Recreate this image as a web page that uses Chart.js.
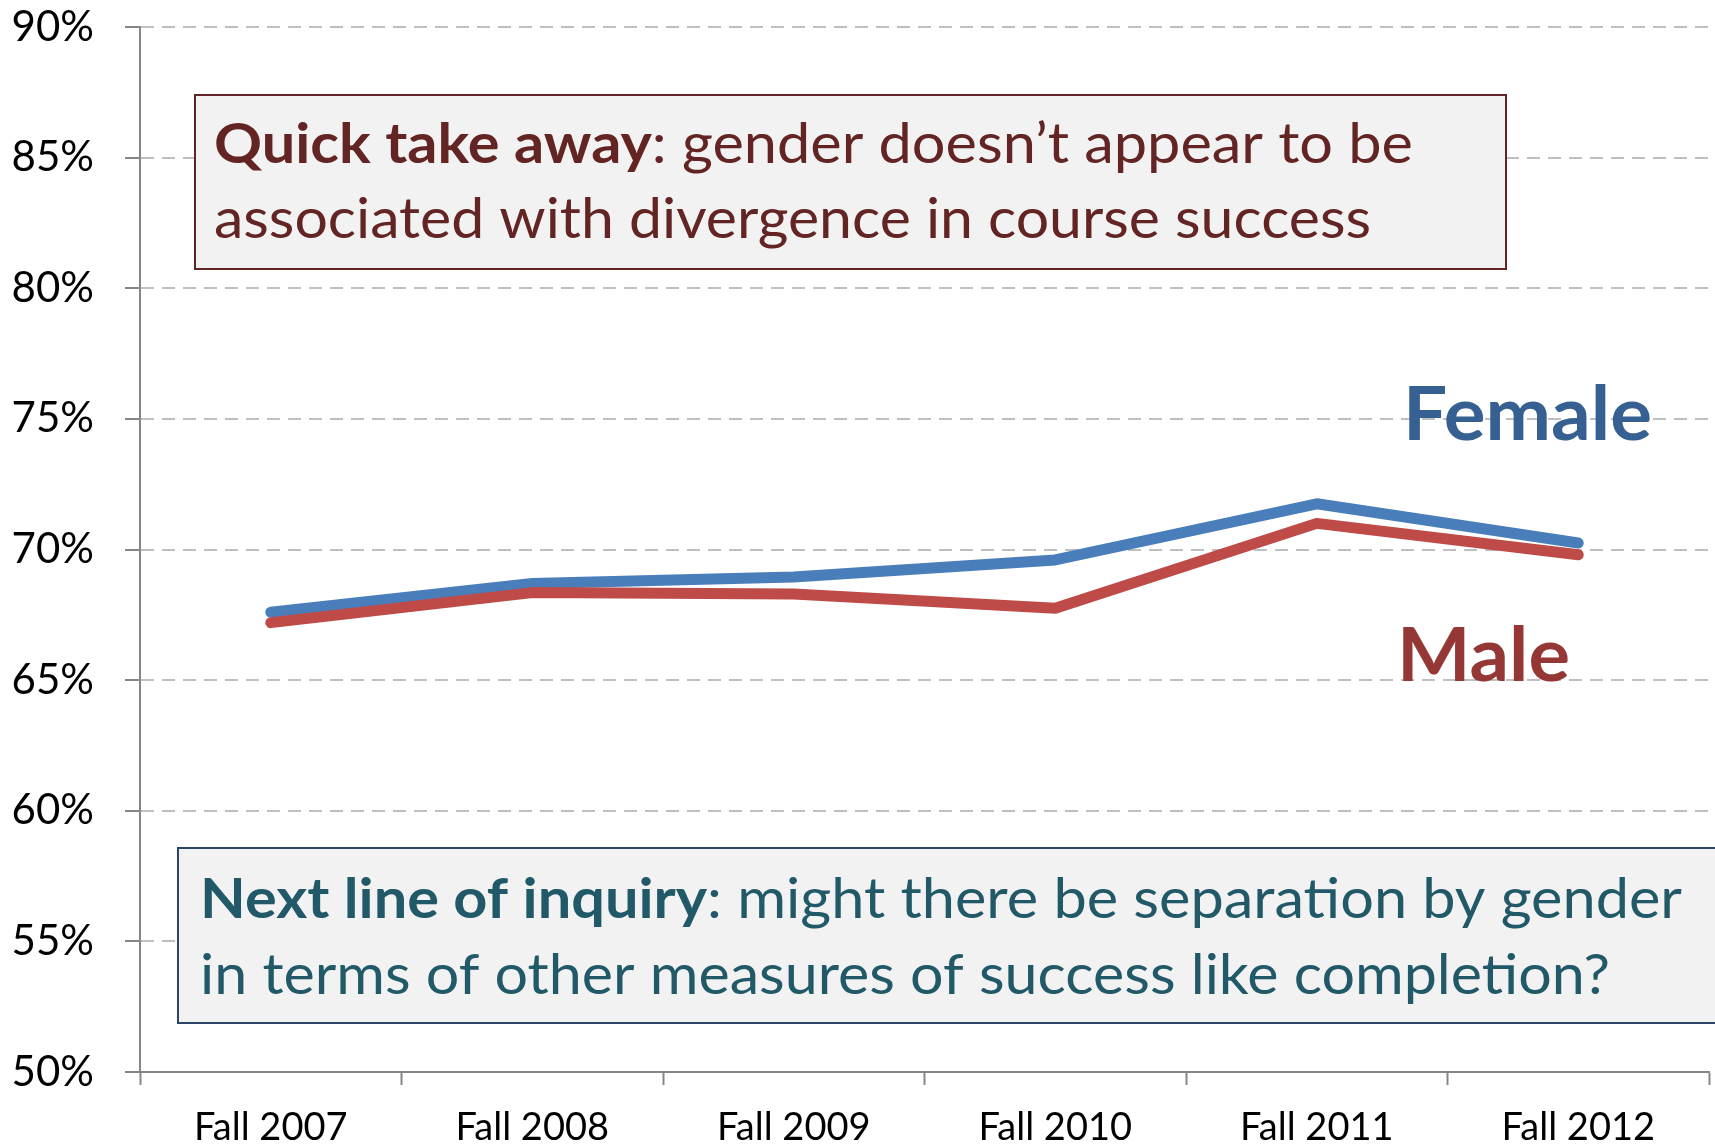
<!DOCTYPE html>
<html>
<head>
<meta charset="utf-8">
<script src="https://cdn.jsdelivr.net/npm/chart.js@4/dist/chart.umd.min.js"></script>
<style>
  html, body { margin: 0; padding: 0; background: #ffffff; }
  #wrap { width: 1715px; height: 1144px; }
</style>
</head>
<body>
<div id="wrap"><canvas id="c" width="1715" height="1144"></canvas></div>
<script>
// ---- data ----
const categories = ['Fall 2007', 'Fall 2008', 'Fall 2009', 'Fall 2010', 'Fall 2011', 'Fall 2012'];
const femaleValues = [67.6, 68.7, 68.95, 69.6, 71.75, 70.25];
const maleValues   = [67.2, 68.35, 68.3, 67.75, 71.0, 69.8];
const yTickValues = [50, 55, 60, 65, 70, 75, 80, 85, 90];
const seriesNames = ['Female', 'Male'];
const noteTopLines = [
  [{ t: 'Quick take away', b: true }, { t: ': gender doesn\u2019t appear to be', b: false }],
  [{ t: 'associated with divergence in course success', b: false }]
];
const noteBottomLines = [
  [{ t: 'Next line of inquiry', b: true }, { t: ': might there be separation by gender', b: false }],
  [{ t: 'in terms of other measures of success like completion?', b: false }]
];

const FONT = 'Lato, "Open Sans", sans-serif';

function drawRuns(ctx, runs, x, baseline, targetW, size, color) {
  ctx.save();
  ctx.fillStyle = color;
  ctx.textBaseline = 'alphabetic';
  ctx.textAlign = 'left';
  let total = 0;
  runs.forEach(r => {
    ctx.font = (r.b ? 'bold ' : '') + size + 'px ' + FONT;
    r.w = ctx.measureText(r.t).width;
    total += r.w;
  });
  const sx = targetW ? targetW / total : 1;
  ctx.translate(x, baseline);
  ctx.scale(sx, 1);
  let cx = 0;
  runs.forEach(r => {
    ctx.font = (r.b ? 'bold ' : '') + size + 'px ' + FONT;
    ctx.fillText(r.t, cx, 0);
    cx += r.w;
  });
  ctx.restore();
}

const notesPlugin = {
  id: 'notes',
  afterDatasetsDraw(chart) {
    const ctx = chart.ctx;
    ctx.save();
    ctx.fillStyle = '#F2F2F2';
    ctx.strokeStyle = '#632523';
    ctx.lineWidth = 2;
    ctx.fillRect(195, 95, 1311, 174);
    ctx.strokeRect(195, 95, 1311, 174);
    ctx.strokeStyle = '#2A4566';
    ctx.fillRect(178, 848, 1560, 175);
    ctx.strokeRect(178, 848, 1560, 175);
    ctx.restore();

    drawRuns(ctx, noteTopLines[0], 214, 163, 1199, 56, '#632523');
    drawRuns(ctx, noteTopLines[1], 214, 238, 1157, 56, '#632523');
    drawRuns(ctx, noteBottomLines[0], 200, 918, 1482, 56, '#215968');
    drawRuns(ctx, noteBottomLines[1], 200, 994, 1410, 56, '#215968');

    drawRuns(ctx, [{ t: seriesNames[0], b: true }], 1403, 440, 249, 74, '#376092');
    drawRuns(ctx, [{ t: seriesNames[1], b: true }], 1397, 681, 173, 74, '#953735');
  }
};

new Chart(document.getElementById('c'), {
  type: 'line',
  data: {
    labels: categories,
    datasets: [
      {
        label: seriesNames[0],
        data: femaleValues,
        borderColor: '#4A7EBB',
        backgroundColor: '#4A7EBB',
        borderWidth: 11,
        borderCapStyle: 'round',
        borderJoinStyle: 'round',
        pointRadius: 0,
        tension: 0,
        order: 1
      },
      {
        label: seriesNames[1],
        data: maleValues,
        borderColor: '#BE4B48',
        backgroundColor: '#BE4B48',
        borderWidth: 11,
        borderCapStyle: 'round',
        borderJoinStyle: 'round',
        pointRadius: 0,
        tension: 0,
        order: 0
      }
    ]
  },
  options: {
    responsive: false,
    animation: false,
    devicePixelRatio: 1,
    layout: { padding: { top: 0, right: 6, left: 0, bottom: 0 } },
    plugins: {
      legend: { display: false },
      tooltip: { enabled: false },
      title: { display: false }
    },
    scales: {
      x: {
        type: 'category',
        offset: true,
        grid: {
          display: true,
          drawOnChartArea: false,
          drawTicks: true,
          tickLength: 13,
          tickColor: '#868686',
          tickWidth: 2,
          offset: true
        },
        border: { display: true, color: '#868686', width: 2 },
        ticks: {
          color: '#000000',
          font: { family: FONT, size: 38 },
          padding: 20,
          maxRotation: 0,
          autoSkip: false
        },
        afterFit(scale) { scale.height = 72; }
      },
      y: {
        min: 50,
        max: 90,
        afterBuildTicks(scale) { scale.ticks = yTickValues.map(v => ({ value: v })); },
        grid: {
          color: (c) => (c.tick && c.tick.value === 50) ? 'rgba(0,0,0,0)' : '#BFBFBF',
          lineWidth: 2,
          drawTicks: true,
          tickLength: 15,
          tickColor: '#868686',
          tickWidth: 2
        },
        border: { display: true, color: '#868686', width: 2, dash: [13, 8] },
        ticks: {
          color: '#000000',
          font: { family: FONT, size: 42 },
          padding: 31,
          callback: (v) => v + '%'
        },
        afterFit(scale) { scale.width = 140; scale.paddingTop = 27; scale.paddingBottom = 0; }
      }
    }
  },
  plugins: [notesPlugin]
});
</script>
</body>
</html>
